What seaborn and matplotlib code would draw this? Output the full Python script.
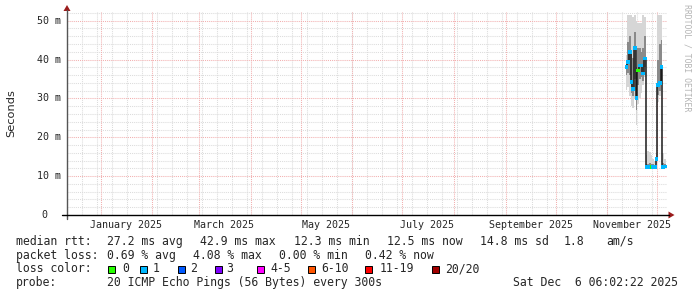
import numpy as np
import pandas as pd
import matplotlib
matplotlib.use("Agg")
import matplotlib.pyplot as plt
from matplotlib.patches import Rectangle, Polygon
from matplotlib.lines import Line2D
from matplotlib.transforms import blended_transform_factory
import seaborn as sns

# ---------------- data ----------------
days = ["2025-11-12", "2025-11-13", "2025-11-14", "2025-11-15", "2025-11-16",
        "2025-11-17", "2025-11-18", "2025-11-19", "2025-11-20", "2025-11-21",
        "2025-11-22", "2025-11-23", "2025-11-24", "2025-11-25", "2025-11-26",
        "2025-11-27", "2025-11-28", "2025-11-29", "2025-11-30", "2025-12-01",
        "2025-12-02", "2025-12-03", "2025-12-04", "2025-12-05"]
median_ms = [38.0, 39.3, 41.9, 34.2, 32.5, 42.9, 30.1, 37.2, 38.5, 38.5, 36.4, 40.3,
             12.4, 12.3, 12.3, 12.3, 12.3, 12.3, 14.4,
             33.5, 34.0, 38.0, 12.4, 12.5]
smoke_lo = [32.2, 33.0, 30.5, 28.0, 27.5, 30.0, 23.2, 28.5, 30.0, 31.5, 33.5, 35.5,
            11.9, 11.9, 11.9, 11.9, 11.9, 11.9, 13.0,
            29.0, 30.5, 33.5, 12.0, 12.0]
smoke_in_lo = [36.0, 36.5, 36.0, 31.5, 30.5, 35.0, 27.0, 33.5, 35.0, 35.5, 34.5, 38.0,
               12.1, 12.1, 12.1, 12.1, 12.1, 12.1, 13.8,
               31.0, 32.0, 35.5, 12.1, 12.1]
smoke_in_hi = [40.0, 44.5, 46.0, 42.0, 40.5, 47.0, 38.0, 43.0, 43.0, 42.0, 43.0, 46.0,
               13.2, 13.0, 13.3, 13.2, 13.0, 12.9, 15.0,
               40.0, 44.0, 45.0, 13.5, 13.0]
smoke_hi = [41.2, 51.5, 51.5, 51.5, 51.0, 51.5, 50.0, 49.5, 49.5, 49.5, 51.5, 51.0,
            15.5, 16.5, 16.3, 15.5, 14.5, 14.0, 16.0,
            51.5, 51.5, 51.5, 16.0, 14.5]
loss_count = ["1", "1", "1", "1", "1", "1", "1", "0", "1", "1", "1", "1",
              "1", "1", "1", "0", "1", "1", "1",
              "1", "1", "1", "1", "1"]

loss_labels = ["0", "1", "2", "3", "4-5", "6-10", "11-19", "20/20"]
loss_colors = ["#26ff00", "#00b8ff", "#0059ff", "#7e00ff", "#ff00ff", "#ff5500", "#ff0000", "#a10000"]

y_ticks = [0, 10, 20, 30, 40, 50]
y_tick_labels = ["0", "10 m", "20 m", "30 m", "40 m", "50 m"]
month_label_starts = ["2025-01-01", "2025-03-01", "2025-05-01", "2025-07-01", "2025-09-01", "2025-11-01"]
month_labels = ["January 2025", "March 2025", "May 2025", "July 2025", "September 2025", "November 2025"]

stats_rtt = ["median rtt:", "27.2 ms avg", "42.9 ms max", "12.3 ms min", "12.5 ms now", "14.8 ms sd", "1.8", "am/s"]
stats_loss = ["packet loss:", "0.69 % avg", "4.08 % max", "0.00 % min", "0.42 % now"]
probe_text = ["probe:", "20 ICMP Echo Pings (56 Bytes) every 300s", "Sat Dec  6 06:02:22 2025"]

# ---------------- layout ----------------
W, H = 697, 297
MONO = "DejaVu Sans Mono"
sns.set_style("white")
plt.rcParams["font.family"] = [MONO, "DejaVu Sans"]
plt.rcParams["lines.scale_dashes"] = False


def fx(x):
    return x / W


def fy(y):
    return 1 - y / H


fig = plt.figure(figsize=(W / 100, H / 100), dpi=100, facecolor="white")
ax_left, ax_right, ax_bottom, ax_top = 67, 667, 215, 12
ax = fig.add_axes([fx(ax_left), fy(ax_bottom), (ax_right - ax_left) / W, (ax_bottom - ax_top) / H])
ax.set_facecolor("white")
x0 = pd.Timestamp("2024-12-11 18:00")
x1 = pd.Timestamp("2025-12-06 18:00")
ax.set_xlim(x0, x1)
ax.set_ylim(0, (ax_bottom - ax_top) / 3.886)
for s in ax.spines.values():
    s.set_visible(False)
ax.set_xticks([])
ax.set_yticks([])

# grid
dot = (0, (0.75, 0.75))
minor_c = "#dcdcdc"
major_c = "#f2b0b0"
ymax = ax.get_ylim()[1]
for v in np.arange(2, ymax, 2):
    if v % 10 != 0:
        ax.axhline(v, color=minor_c, lw=0.75, ls=dot, zorder=0)
for v in y_ticks[1:]:
    ax.axhline(v, color=major_c, lw=0.75, ls=dot, zorder=0.5)
minor_days = pd.date_range("2024-12-12", x1, freq="9D")
for d in minor_days:
    ax.axvline(d, color=minor_c, lw=0.75, ls=dot, zorder=0)
month_starts = pd.date_range("2025-01-01", x1, freq="MS")
for d in month_starts:
    ax.axvline(d, color=major_c, lw=0.75, ls=dot, zorder=0.5)

# smoke
df = pd.DataFrame({
    "date": pd.to_datetime(days),
    "median": median_ms,
    "lo": smoke_lo, "in_lo": smoke_in_lo, "in_hi": smoke_in_hi, "hi": smoke_hi,
    "loss": loss_count,
})
edges = list(df["date"]) + [df["date"].iloc[-1] + pd.Timedelta(days=1)]


def ext(col):
    vals = list(df[col])
    return vals + [vals[-1]]


ax.fill_between(edges, ext("lo"), ext("hi"), step="post", color="#d6d6d6", lw=0, zorder=2)
ax.fill_between(edges, ext("in_lo"), ext("in_hi"), step="post", color="#8a8a8a", lw=0, zorder=3)

# median line
sns.lineplot(data=df, x="date", y="median", drawstyle="steps-post", color="#1a1a1a",
             lw=1.1, ax=ax, zorder=4, legend=False)
df["mid"] = df["date"] + pd.Timedelta(hours=12)
sns.scatterplot(data=df, x="mid", y="median", hue="loss", palette=dict(zip(loss_labels, loss_colors)),
                marker="s", s=7, linewidth=0, ax=ax, zorder=5, legend=False)
ax.set_xlabel("")
ax.set_ylabel("")
ax.set_xlim(x0, x1)
ax.set_ylim(0, ymax)

# axes lines and arrows
fig.add_artist(Line2D([fx(67), fx(67)], [fy(219), fy(10)], color="#555555", lw=1.0))
fig.add_artist(Line2D([fx(62), fx(669)], [fy(215), fy(215)], color="#000000", lw=1.0))
arrow_c = "#9b1c1c"
fig.add_artist(Polygon([[fx(67), fy(5)], [fx(63.5), fy(11)], [fx(70.5), fy(11)]], closed=True,
                       color=arrow_c, lw=0))
fig.add_artist(Polygon([[fx(674.5), fy(215)], [fx(668.5), fy(211.5)], [fx(668.5), fy(218.5)]], closed=True,
                       color=arrow_c, lw=0))

# tick labels
tick_fs = 7.2
ytr = blended_transform_factory(fig.transFigure, ax.transData)
for v, lab in zip(y_ticks, y_tick_labels):
    xr = 47.5 if lab == "0" else 60.5
    fig.text(fx(xr), v, lab, transform=ytr, ha="right", va="center", fontsize=tick_fs, family=MONO)
xtr = blended_transform_factory(ax.transData, fig.transFigure)
for st, lab in zip(month_label_starts, month_labels):
    pos = pd.Timestamp(st) + pd.Timedelta(days=15)
    ax.text(pos, fy(228), lab, transform=xtr, ha="center", va="baseline", fontsize=tick_fs,
            family=MONO, clip_on=False)

fig.text(fx(11), fy(113.5), "Seconds", rotation=90, ha="center", va="center", fontsize=8.2,
         family="DejaVu Sans")
fig.text(fx(687.5), fy(4), "RRDTOOL / TOBI OETIKER", rotation=270, ha="center", va="top",
         fontsize=5.9, family=MONO, color="#b4b4b4")

# legend
fs = 8.3
rtt_x = [16, 107, 200, 294, 386.7, 480, 564, 606.7]
for x, s in zip(rtt_x, stats_rtt):
    fig.text(fx(x), fy(244.8), s, ha="left", va="baseline", fontsize=fs, family=MONO)
loss_x = [16, 107, 193.3, 279.3, 365]
for x, s in zip(loss_x, stats_loss):
    fig.text(fx(x), fy(258.6), s, ha="left", va="baseline", fontsize=fs, family=MONO)
fig.text(fx(16), fy(272.4), "loss color:", ha="left", va="baseline", fontsize=fs, family=MONO)
label_x = [122.5, 153, 190, 226.7, 270, 321.7, 380, 445]
box_x = [108.3, 140, 178.3, 215, 256.7, 308.3, 365, 431.7]
for bx, lx, lab, col in zip(box_x, label_x, loss_labels, loss_colors):
    fig.add_artist(Rectangle((fx(bx), fy(272.5)), 7 / W, 7 / H, facecolor=col,
                             edgecolor="black", lw=0.7))
    fig.text(fx(lx), fy(272.4), lab, ha="left", va="baseline", fontsize=fs, family=MONO)
probe_x = [16, 107, 513]
for x, s in zip(probe_x, probe_text):
    fig.text(fx(x), fy(286.2), s, ha="left", va="baseline", fontsize=fs, family=MONO)

fig.savefig("out.png", dpi=100, facecolor="white")
